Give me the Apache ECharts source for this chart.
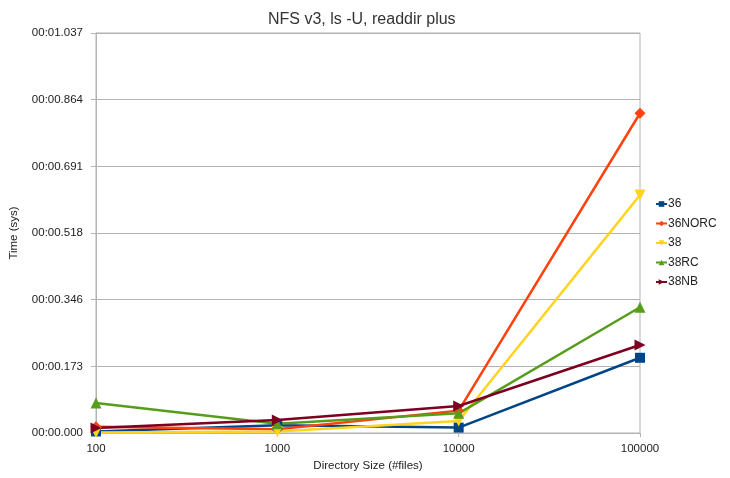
<!DOCTYPE html>
<html>
<head>
<meta charset="utf-8">
<script src="https://cdn.jsdelivr.net/npm/echarts@6/dist/echarts.min.js"></script>
<style>html,body{margin:0;padding:0;background:#fff;}#c{width:730px;height:478px;}</style>
</head>
<body>
<div id="c"></div>
<script>
const categories = ['100', '1000', '10000', '100000'];
const s36 = [0.004, 0.020, 0.014, 0.195];
const s36NORC = [0.016, 0.010, 0.058, 0.829];
const s38 = [0.001, 0.004, 0.031, 0.617];
const s38RC = [0.078, 0.024, 0.051, 0.326];
const s38NB = [0.013, 0.034, 0.070, 0.228];
const yMax = 1.037;

const FONT = 'Liberation Sans';
function fmt(v) {
  const ms = Math.round(v * 1000 - 1e-6);
  const s = Math.floor(ms / 1000);
  const r = ms % 1000;
  return '00:' + String(s).padStart(2, '0') + '.' + String(r).padStart(3, '0');
}
function mk(name, data, color, symbol, rotate, size) {
  return {
    name, type: 'line', data, symbol, symbolSize: size, symbolRotate: rotate,
    lineStyle: {color, width: 2.5}, itemStyle: {color},
    showAllSymbol: true, animation: false
  };
}
const chart = echarts.init(document.getElementById('c'));
chart.setOption({
  animation: false,
  backgroundColor: '#fff',
  title: {text: 'NFS v3, ls -U, readdir plus', left: 263, top: 7,
    textStyle: {fontFamily: FONT, fontSize: 16, fontWeight: 'normal', color: '#333'}},
  grid: {left: 93, right: 90, top: 33, bottom: 45, show: true, borderColor: '#b3b3b3', borderWidth: 1},
  legend: {orient: 'vertical', left: 650, top: 193, itemGap: 7.5, itemWidth: 11, itemHeight: 7,
    textStyle: {fontFamily: FONT, fontSize: 12, color: '#222', padding: [0, 0, 0, -4]}},
  xAxis: {type: 'category', data: categories, boundaryGap: false,
    name: 'Directory Size (#files)', nameLocation: 'middle', nameGap: 26,
    nameTextStyle: {fontFamily: FONT, fontSize: 11.5, color: '#222'},
    axisLine: {lineStyle: {color: '#b3b3b3'}},
    axisTick: {show: true, length: 4, lineStyle: {color: '#b3b3b3'}},
    axisLabel: {fontFamily: FONT, fontSize: 11.5, color: '#222', margin: 10},
    splitLine: {show: false}},
  yAxis: {type: 'value', min: 0, max: yMax, interval: yMax / 6,
    name: 'Time (sys)', nameLocation: 'middle', nameGap: 76,
    nameTextStyle: {fontFamily: FONT, fontSize: 11.5, color: '#222'},
    axisLine: {show: true, lineStyle: {color: '#b3b3b3'}},
    axisTick: {show: true, inside: false, length: 5, lineStyle: {color: '#b3b3b3', width: 1}},
    axisLabel: {fontFamily: FONT, fontSize: 11.5, color: '#222', margin: 13, formatter: fmt},
    splitLine: {lineStyle: {color: '#b3b3b3'}}},
  series: [
    mk('36', s36, '#004586', 'rect', 0, 10),
    mk('36NORC', s36NORC, '#ff420e', 'diamond', 0, 11),
    mk('38', s38, '#ffd320', 'triangle', 180, 11),
    mk('38RC', s38RC, '#579d1c', 'triangle', 0, 11),
    mk('38NB', s38NB, '#7e0021', 'triangle', -90, 11)
  ]
});
</script>
</body>
</html>
